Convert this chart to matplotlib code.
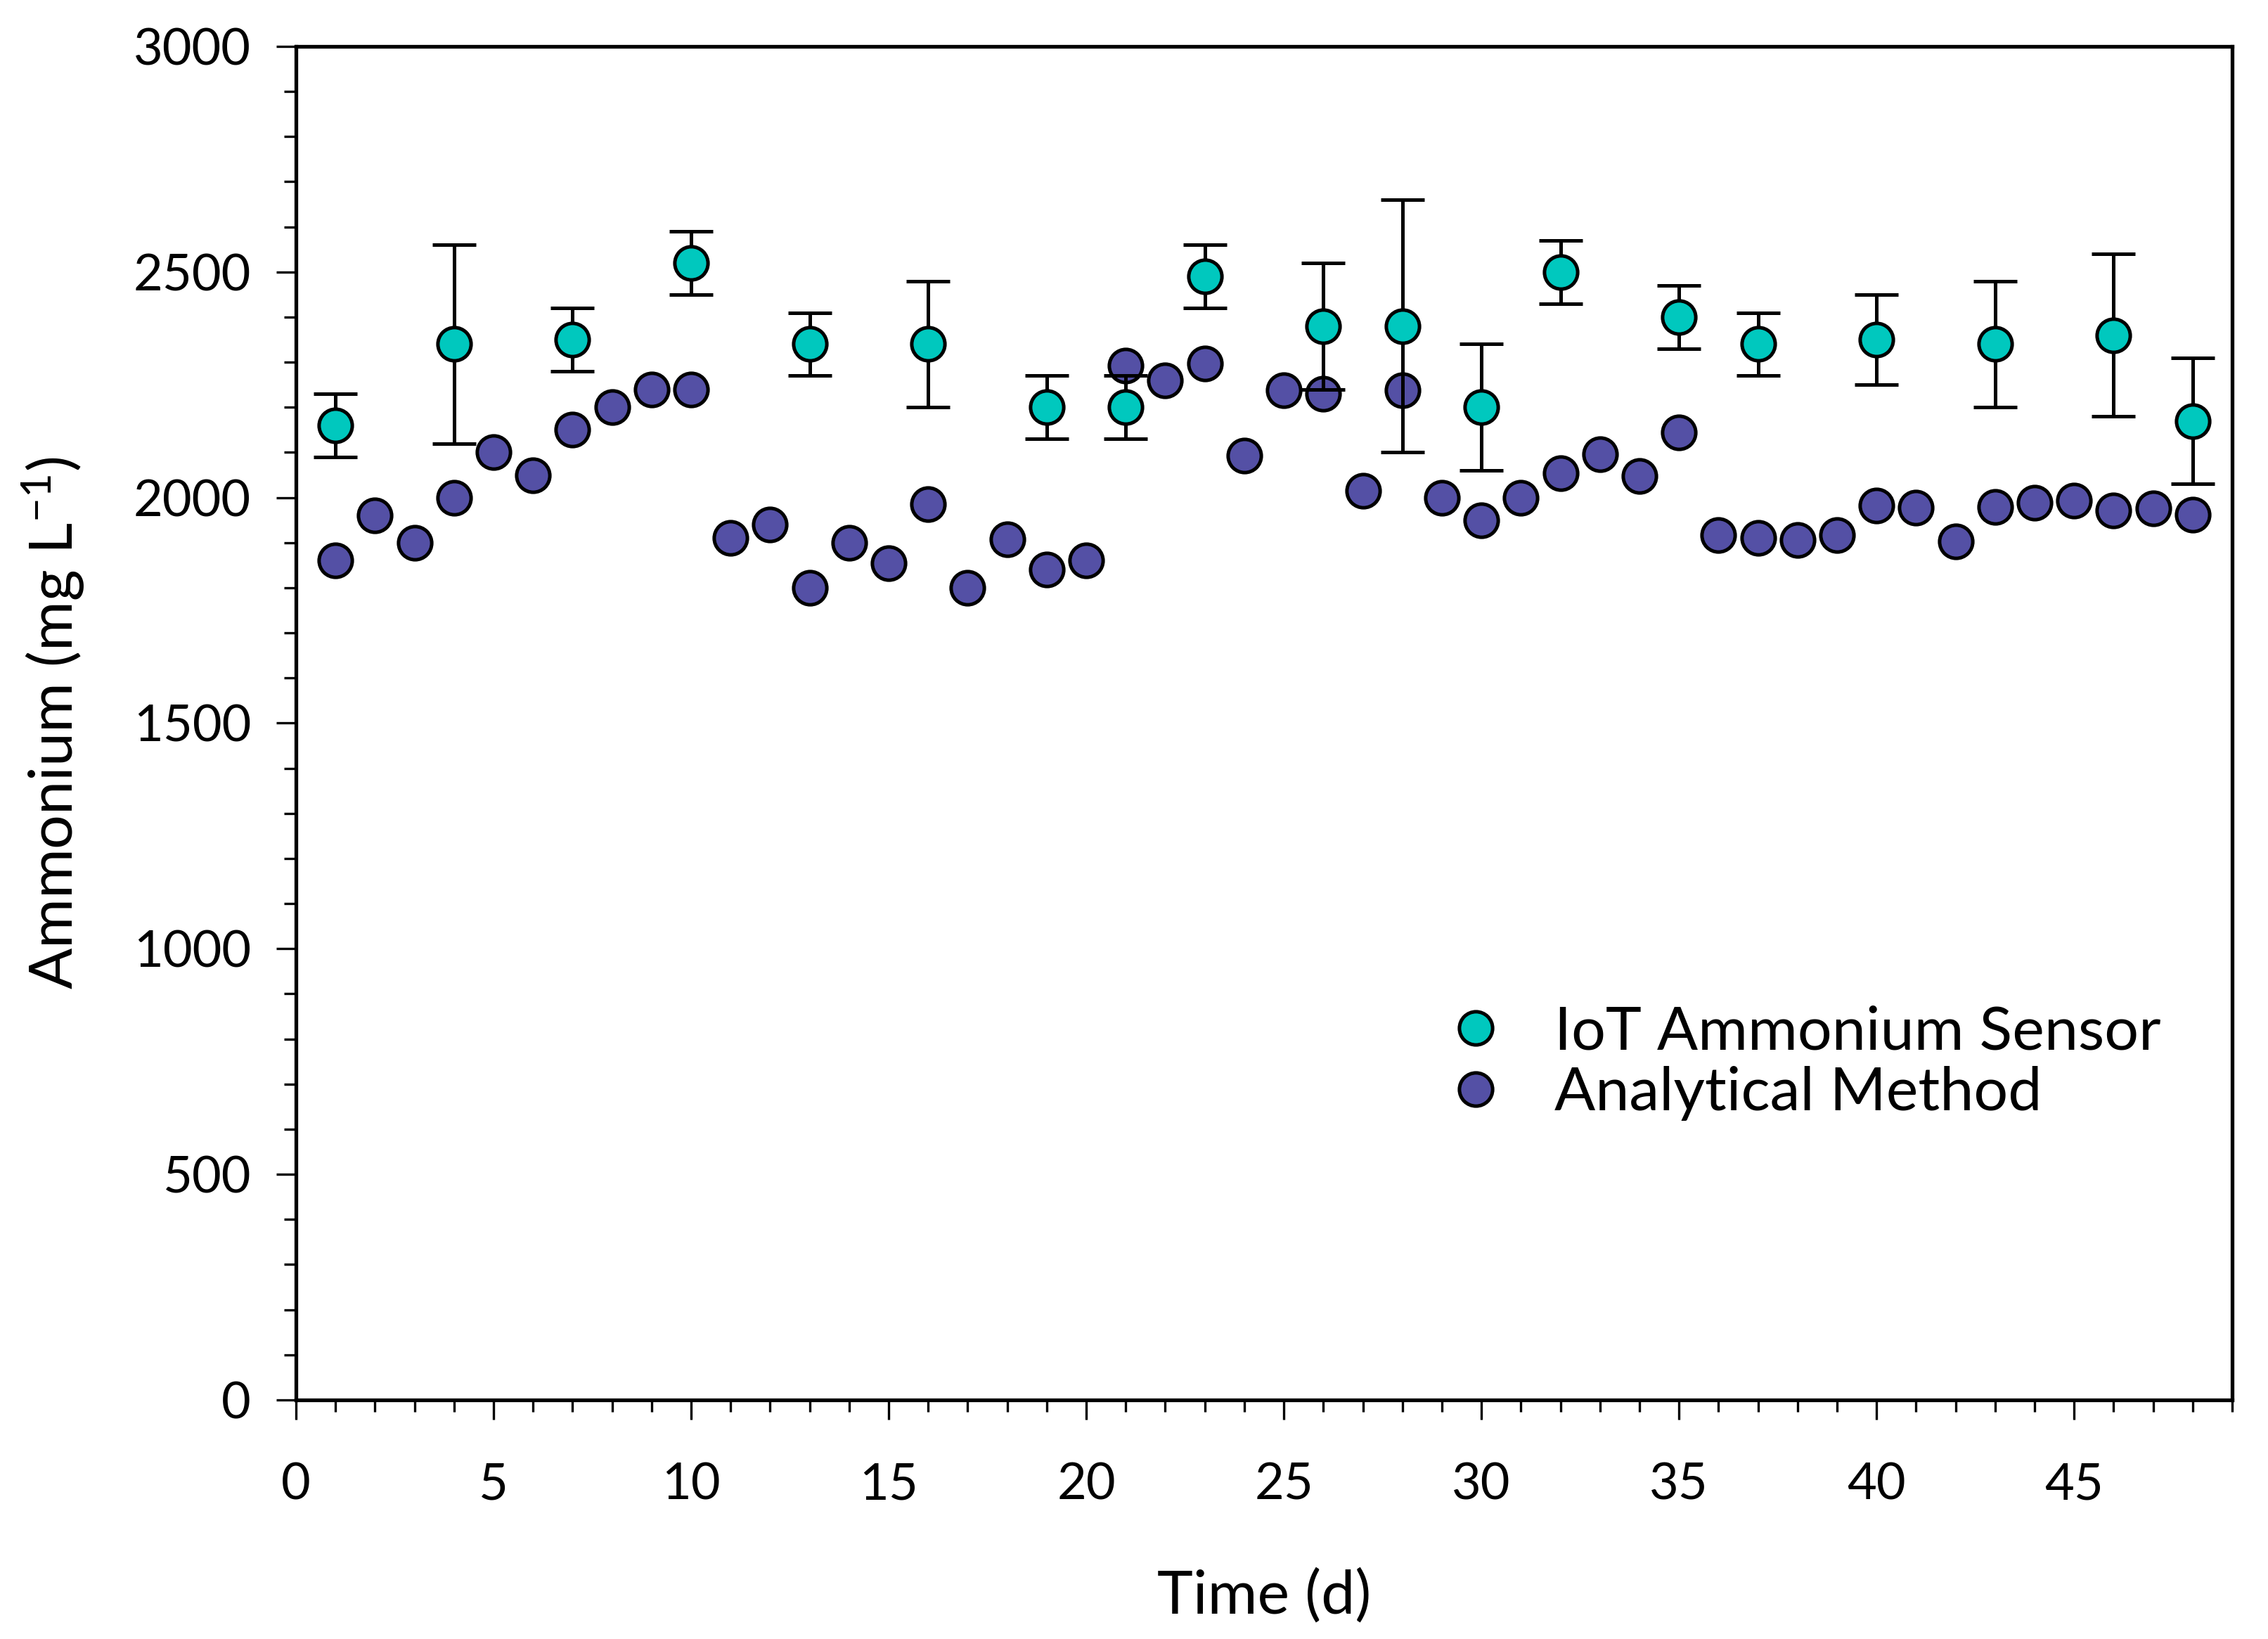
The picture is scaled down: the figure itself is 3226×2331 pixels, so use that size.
import matplotlib
matplotlib.use("Agg")
import matplotlib.pyplot as plt
from matplotlib.ticker import MultipleLocator

plt.rcParams['font.family'] = ['Lato', 'DejaVu Sans']
plt.rcParams['mathtext.fontset'] = 'custom'
plt.rcParams['mathtext.rm'] = 'Lato'
plt.rcParams['mathtext.it'] = 'Lato:italic'

# ---- data ----
sensor_days = [1, 4, 7, 10, 13, 16, 19, 21, 23, 26, 28, 30, 32, 35, 37, 40, 43, 46, 48]
sensor_vals = [2160, 2340, 2350, 2520, 2340, 2340, 2200, 2200, 2490, 2380, 2380, 2200,
               2500, 2400, 2340, 2350, 2340, 2360, 2170]
sensor_err = [70, 220, 70, 70, 70, 140, 70, 70, 70, 140, 280, 140,
              70, 70, 70, 100, 140, 180, 140]

method_days = list(range(1, 49))
method_vals = [1860, 1960, 1900, 2000, 2100, 2050, 2150, 2200, 2240, 2240,
               1910, 1940, 1800, 1900, 1855, 1985, 1800, 1908, 1840, 1860,
               2292, 2259, 2297, 2093, 2238, 2230, 2015, 2238, 2000, 1950,
               2000, 2054, 2096, 2047, 2145, 1917, 1910, 1906, 1917, 1983,
               1977, 1903, 1979, 1988, 1993, 1972, 1976, 1962]

labels = ['IoT Ammonium Sensor', 'Analytical Method']
teal = '#00C8BE'
purple = '#5450A5'

fig = plt.figure(figsize=(16.13, 11.655), dpi=200)
ax = fig.add_axes([0.1305, 0.1459, 0.8537, 0.8258])

mline, = ax.plot(method_days, method_vals, 'o', ms=17, mfc=purple, mec='k',
                 mew=1.8, zorder=2, label=labels[1])
cont = ax.errorbar(sensor_days, sensor_vals, yerr=sensor_err, fmt='o', ms=17,
                   mfc=teal, mec='k', mew=1.8, ecolor='k', elinewidth=1.8,
                   capsize=11, capthick=1.8, zorder=3, label=labels[0])

ax.set_xlim(0, 49)
ax.set_ylim(0, 3000)
ax.xaxis.set_major_locator(MultipleLocator(5))
ax.xaxis.set_minor_locator(MultipleLocator(1))
ax.yaxis.set_major_locator(MultipleLocator(500))
ax.yaxis.set_minor_locator(MultipleLocator(100))
ax.tick_params(which='both', direction='out', top=False, right=False)
ax.tick_params(which='major', length=10, width=1.2, labelsize=26, pad=13)
ax.tick_params(axis='x', which='major', pad=22)
ax.tick_params(which='minor', length=6, width=1.2)
for s in ax.spines.values():
    s.set_linewidth(1.9)

ax.set_xlabel('Time (d)', fontsize=31, labelpad=31)
ax.set_ylabel(r'Ammonium (mg L$^{-1}$)', fontsize=31, labelpad=24)

ax.legend([cont[0], mline], labels, loc='upper left',
          bbox_to_anchor=(0.578, 0.314), frameon=False, fontsize=31,
          handlelength=1.0, handletextpad=0.8, labelspacing=0.1,
          borderpad=0, numpoints=1)

fig.savefig('out.png', dpi=200)
